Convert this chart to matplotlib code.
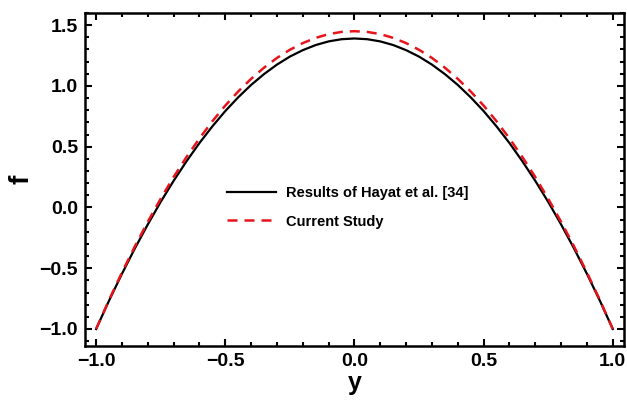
import matplotlib
matplotlib.use("Agg")
import matplotlib.pyplot as plt
from matplotlib.ticker import MultipleLocator

y_vals = [-1.0, -0.95, -0.9, -0.85, -0.8, -0.75, -0.7, -0.65, -0.6, -0.55, -0.5,
          -0.45, -0.4, -0.35, -0.3, -0.25, -0.2, -0.15, -0.1, -0.05, 0.0,
          0.05, 0.1, 0.15, 0.2, 0.25, 0.3, 0.35, 0.4, 0.45, 0.5,
          0.55, 0.6, 0.65, 0.7, 0.75, 0.8, 0.85, 0.9, 0.95, 1.0]
f_hayat = [-1.0, -0.767, -0.546, -0.337, -0.140, 0.046, 0.219, 0.380, 0.530, 0.667, 0.793,
           0.906, 1.008, 1.097, 1.175, 1.241, 1.294, 1.336, 1.366, 1.384, 1.390,
           1.384, 1.366, 1.336, 1.294, 1.241, 1.175, 1.097, 1.008, 0.906, 0.793,
           0.667, 0.530, 0.380, 0.219, 0.046, -0.140, -0.337, -0.546, -0.767, -1.0]
f_current = [-1.0, -0.761, -0.535, -0.320, -0.118, 0.072, 0.250, 0.415, 0.568, 0.709, 0.838,
             0.954, 1.058, 1.150, 1.230, 1.297, 1.352, 1.395, 1.426, 1.444, 1.450,
             1.444, 1.426, 1.395, 1.352, 1.297, 1.230, 1.150, 1.058, 0.954, 0.838,
             0.709, 0.568, 0.415, 0.250, 0.072, -0.118, -0.320, -0.535, -0.761, -1.0]
xticks = [-1.0, -0.5, 0.0, 0.5, 1.0]
yticks = [-1.0, -0.5, 0.0, 0.5, 1.0, 1.5]

plt.rcParams['font.family'] = ['Liberation Sans', 'DejaVu Sans']

fig = plt.figure(figsize=(6.27, 4.05), dpi=100)
ax = fig.add_axes([0.1356, 0.1457, 0.8594, 0.8223])

ax.plot(y_vals, f_hayat, color='black', lw=1.6, label='Results of Hayat et al. [34]')
ax.plot(y_vals, f_current, color='#e8141c', lw=1.8, dashes=(4, 2.8), label='Current Study')

ax.set_xlim(-1.043, 1.043)
ax.set_ylim(-1.14, 1.6)
ax.set_xticks(xticks)
ax.set_yticks(yticks)
ax.set_xticklabels([f"{v:.1f}".replace('-', '\u2212') for v in xticks])
ax.set_yticklabels([f"{v:.1f}".replace('-', '\u2212') for v in yticks])
ax.xaxis.set_minor_locator(MultipleLocator(0.1))
ax.yaxis.set_minor_locator(MultipleLocator(0.1))
ax.tick_params(which='both', direction='in', top=True, right=True, width=1.5)
ax.tick_params(which='major', length=5, labelsize=14, pad=5)
ax.tick_params(which='minor', length=3)
for lab in ax.get_xticklabels() + ax.get_yticklabels():
    lab.set_fontweight('bold')
for sp in ax.spines.values():
    sp.set_linewidth(1.8)

ax.set_xlabel('y', fontsize=18, fontweight='bold', labelpad=1)
ax.set_ylabel('f', fontsize=20, fontweight='bold', labelpad=4, rotation=90)

leg = ax.legend(loc='upper left', bbox_to_anchor=(0.24, 0.52), frameon=False,
                prop={'family': 'Liberation Sans', 'weight': 'bold', 'size': 10.5},
                handlelength=3.3, handletextpad=0.7, labelspacing=1.0)

fig.savefig('out.png', dpi=100)
